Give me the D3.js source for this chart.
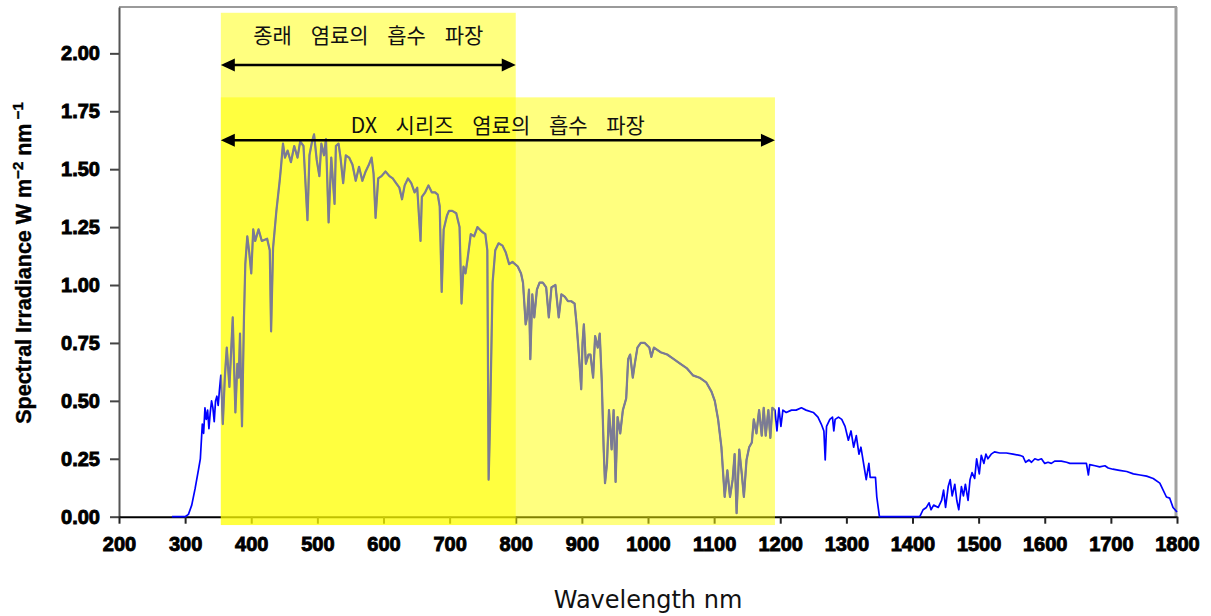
<!DOCTYPE html>
<html>
<head>
<meta charset="utf-8">
<script src="https://cdn.jsdelivr.net/npm/d3@7/dist/d3.min.js"></script>
<style>
  body { margin: 0; background: #fff; }
</style>
</head>
<body>
<script>
// spectrum
const wavelength = [
  280, 300, 305, 310, 315, 320, 323, 326, 328, 330, 332, 334, 336, 338, 340, 342, 344, 346, 348, 350, 352, 354,
  357, 360, 363, 367, 372, 376, 379, 381, 383, 386, 389, 391, 394, 397, 400, 403, 406, 411, 416, 424, 428, 430,
  433, 438, 443, 445, 448, 451, 455, 460, 465, 470, 474, 479, 485, 488, 492, 495, 499, 503, 506, 510, 513, 517,
  521, 526, 528, 532, 535, 539, 543, 548, 553, 558, 563, 568, 573, 578, 582, 585, 588, 592, 597, 603, 609, 614,
  619, 624, 628, 632, 637, 642, 647, 651, 656, 658, 663, 668, 673, 678, 682, 685, 688, 691, 696, 699, 704, 710,
  715, 718, 721, 724, 727, 732, 737, 742, 749, 754, 757, 759, 761, 765, 769, 774, 780, 785, 790, 795, 803, 808,
  811, 815, 817, 820, 822, 825, 828, 832, 836, 841, 846, 850, 854, 860, 865, 869, 874, 879, 884, 889, 892, 896,
  899, 901, 903, 906, 910, 913, 917, 920, 924, 927, 930, 933, 935, 938, 941, 945, 948, 951, 954, 958, 962, 967,
  970, 973, 977, 980, 984, 989, 995, 1002, 1005, 1009, 1019, 1029, 1039, 1049, 1059, 1068, 1078, 1088, 1096, 1101,
  1106, 1111, 1116, 1120, 1124, 1128, 1131, 1134, 1138, 1142, 1145, 1149, 1153, 1157, 1160, 1164, 1168, 1172, 1175, 1178,
  1182, 1185, 1188, 1192, 1195, 1198, 1201, 1204, 1209, 1217, 1224, 1232, 1239, 1250, 1257, 1262, 1266, 1268, 1270, 1275,
  1279, 1281, 1283, 1288, 1293, 1298, 1303, 1307, 1311, 1315, 1319, 1322, 1326, 1330, 1334, 1336, 1340, 1344, 1346, 1350,
  1411, 1416, 1421, 1425, 1428, 1432, 1439, 1444, 1447, 1450, 1454, 1457, 1460, 1464, 1467, 1470, 1474, 1477, 1480, 1484,
  1487, 1490, 1494, 1497, 1501, 1504, 1508, 1511, 1514, 1519, 1524, 1532, 1542, 1552, 1562, 1567, 1571, 1576, 1580, 1585,
  1590, 1595, 1600, 1605, 1610, 1615, 1625, 1633, 1638, 1648, 1655, 1663, 1666, 1668, 1676, 1683, 1691, 1696, 1703, 1713,
  1724, 1734, 1744, 1754, 1764, 1774, 1784, 1789, 1794, 1800
];
const irradiance = [
  0, 0, 0.01, 0.05, 0.12, 0.2, 0.25, 0.4, 0.36, 0.47, 0.42, 0.46, 0.38, 0.45, 0.5, 0.47, 0.41, 0.5, 0.52, 0.48, 0.55, 0.61,
  0.40, 0.60, 0.73, 0.56, 0.86, 0.45, 0.66, 0.60, 0.79, 0.39, 0.86, 1.09, 1.21, 1.14, 1.05, 1.24, 1.19, 1.24, 1.19, 1.20, 1.15, 0.80,
  1.16, 1.32, 1.45, 1.51, 1.61, 1.55, 1.58, 1.53, 1.60, 1.55, 1.62, 1.60, 1.28, 1.56, 1.62, 1.65, 1.54, 1.47, 1.61, 1.56, 1.63, 1.27,
  1.55, 1.35, 1.60, 1.61, 1.55, 1.44, 1.56, 1.55, 1.52, 1.45, 1.51, 1.45, 1.49, 1.52, 1.55, 1.48, 1.29, 1.46, 1.47, 1.49, 1.47, 1.46,
  1.44, 1.42, 1.37, 1.43, 1.46, 1.44, 1.40, 1.42, 1.19, 1.38, 1.40, 1.43, 1.40, 1.40, 1.39, 1.34, 0.97, 1.24, 1.30, 1.32, 1.32, 1.31,
  1.25, 0.92, 1.08, 1.05, 1.11, 1.22, 1.21, 1.25, 1.23, 1.22, 1.15, 0.16, 0.39, 1.01, 1.15, 1.18, 1.17, 1.14, 1.09, 1.10, 1.08, 1.05,
  1.01, 0.83, 0.86, 0.98, 0.68, 0.96, 0.86, 0.98, 1.01, 1.01, 0.99, 0.86, 0.99, 1.00, 0.86, 0.96, 0.95, 0.93, 0.93, 0.92, 0.83, 0.68,
  0.55, 0.75, 0.83, 0.66, 0.70, 0.70, 0.60, 0.78, 0.73, 0.79, 0.59, 0.29, 0.145, 0.23, 0.46, 0.29, 0.46, 0.15, 0.43, 0.36, 0.46, 0.51,
  0.68, 0.70, 0.60, 0.66, 0.73, 0.75, 0.75, 0.73, 0.69, 0.73, 0.71, 0.70, 0.68, 0.66, 0.64, 0.61, 0.60, 0.58, 0.54, 0.50,
  0.42, 0.30, 0.085, 0.20, 0.085, 0.16, 0.27, 0.015, 0.29, 0.18, 0.085, 0.245, 0.30, 0.32, 0.42, 0.36, 0.46, 0.35, 0.47, 0.35,
  0.46, 0.34, 0.47, 0.46, 0.37, 0.47, 0.39, 0.46, 0.45, 0.46, 0.46, 0.47, 0.46, 0.45, 0.43, 0.40, 0.37, 0.245, 0.39, 0.42,
  0.43, 0.37, 0.42, 0.43, 0.42, 0.39, 0.33, 0.37, 0.30, 0.35, 0.27, 0.30, 0.23, 0.16, 0.23, 0.17, 0.17, 0.17, 0.085, 0,
  0, 0.03, 0.04, 0.06, 0.03, 0.05, 0.04, 0.07, 0.115, 0.04, 0.13, 0.16, 0.09, 0.14, 0.07, 0.03, 0.13, 0.09, 0.14, 0.07,
  0.16, 0.19, 0.165, 0.25, 0.185, 0.265, 0.23, 0.27, 0.25, 0.27, 0.28, 0.275, 0.275, 0.27, 0.265, 0.26, 0.235, 0.245, 0.235, 0.25,
  0.245, 0.25, 0.23, 0.235, 0.23, 0.24, 0.24, 0.235, 0.23, 0.23, 0.23, 0.23, 0.18, 0.225, 0.22, 0.215, 0.22, 0.21, 0.205, 0.20,
  0.195, 0.185, 0.18, 0.175, 0.165, 0.145, 0.085, 0.08, 0.04, 0.02
];

const xTicks = [200, 300, 400, 500, 600, 700, 800, 900, 1000, 1100, 1200, 1300, 1400, 1500, 1600, 1700, 1800];
const yTicks = [0, 0.25, 0.5, 0.75, 1.0, 1.25, 1.5, 1.75, 2.0];

// absorption bands (nm)
const bandLabels = ['종래 염료의 흡수 파장', 'DX 시리즈 염료의 흡수 파장'];
const bandStart = [354, 354];
const bandEnd = [800, 1192];

const w = 1211;
const h = 616;

const x = d3.scaleLinear().domain([200, 1800]).range([119, 1177]);
const y = d3.scaleLinear().domain([0, 2.2]).range([516.7, 7]);

const svg = d3.select('body')
  .append('svg')
  .attr('width', w)
  .attr('height', h);

const data = wavelength.map((d, i) => [d, irradiance[i]]);

// frame (top + right)
svg.append('line')
  .attr('x1', x(200)).attr('x2', x(1800))
  .attr('y1', y(2.2)).attr('y2', y(2.2))
  .attr('stroke', '#9a9a9a').attr('stroke-width', 2);
svg.append('line')
  .attr('x1', x(1800) - 1).attr('x2', x(1800) - 1)
  .attr('y1', y(2.2)).attr('y2', y(0))
  .attr('stroke', '#a0a0a0').attr('stroke-width', 3);

// axes
const yAxis = d3.axisLeft(y)
  .tickValues(yTicks)
  .tickFormat(d3.format('.2f'))
  .tickSize(9)
  .tickSizeOuter(0)
  .tickPadding(10);

const xAxis = d3.axisBottom(x)
  .tickValues(xTicks)
  .tickFormat(d3.format('d'))
  .tickSize(7)
  .tickSizeOuter(0)
  .tickPadding(13);

const gy = svg.append('g')
  .attr('transform', 'translate(' + x(200) + ',0)')
  .call(yAxis);
gy.select('.domain').attr('stroke', '#555').attr('stroke-width', 2);
gy.selectAll('.tick line').attr('stroke', '#444').attr('stroke-width', 2);

const gx = svg.append('g')
  .attr('transform', 'translate(0,' + y(0) + ')')
  .call(xAxis);
gx.select('.domain').attr('stroke', '#000').attr('stroke-width', 2);
gx.selectAll('.tick line').attr('stroke', '#222').attr('stroke-width', 2);

svg.selectAll('.tick text')
  .attr('font-family', 'Liberation Sans, Arial, sans-serif')
  .attr('font-weight', 'bold')
  .attr('font-size', 20)
  .attr('fill', '#000')
  .attr('stroke', '#000')
  .attr('stroke-width', 0.9);

// spectrum
const line = d3.line()
  .x(d => x(d[0]))
  .y(d => y(d[1]));

svg.append('path')
  .datum(data)
  .attr('fill', 'none')
  .attr('stroke', '#0000ff')
  .attr('stroke-width', 1.7)
  .attr('stroke-linejoin', 'round')
  .attr('d', line);

// yellow bands
const bandTop = [2.175, 1.81];
const bandBottom = -0.036;

svg.selectAll('rect.band')
  .data(bandLabels)
  .enter()
  .append('rect')
  .attr('class', 'band')
  .attr('x', (d, i) => x(bandStart[i]))
  .attr('width', (d, i) => x(bandEnd[i]) - x(bandStart[i]))
  .attr('y', (d, i) => y(bandTop[i]))
  .attr('height', (d, i) => y(bandBottom) - y(bandTop[i]))
  .attr('fill', '#ffff00')
  .attr('fill-opacity', 0.5);

// spectrum seen through the yellow
svg.append('clipPath')
  .attr('id', 'bandclip')
  .append('rect')
  .attr('x', x(bandStart[1]))
  .attr('width', x(bandEnd[1]) - x(bandStart[1]))
  .attr('y', y(bandTop[1]))
  .attr('height', y(bandBottom) - y(bandTop[1]));

svg.append('path')
  .datum(data)
  .attr('clip-path', 'url(#bandclip)')
  .attr('fill', 'none')
  .attr('stroke', '#7b7b94')
  .attr('stroke-width', 2.2)
  .attr('stroke-linejoin', 'round')
  .attr('d', line);

// arrows + labels
const arrowLevel = [1.95, 1.625];
const labelLevel = [2.045, 1.655];

bandLabels.forEach((label, i) => {
  const x1 = x(bandStart[i]);
  const x2 = x(bandEnd[i]);
  const ay = y(arrowLevel[i]);
  svg.append('line')
    .attr('x1', x1 + 10).attr('x2', x2 - 10)
    .attr('y1', ay).attr('y2', ay)
    .attr('stroke', '#000').attr('stroke-width', 2.5);
  svg.append('path')
    .attr('d', 'M' + x1 + ',' + ay + 'L' + (x1 + 14) + ',' + (ay - 6.5) + 'L' + (x1 + 14) + ',' + (ay + 6.5) + 'Z')
    .attr('fill', '#000');
  svg.append('path')
    .attr('d', 'M' + x2 + ',' + ay + 'L' + (x2 - 14) + ',' + (ay - 6.5) + 'L' + (x2 - 14) + ',' + (ay + 6.5) + 'Z')
    .attr('fill', '#000');
  svg.append('text')
    .attr('x', (x1 + x2) / 2)
    .attr('y', y(labelLevel[i]))
    .attr('text-anchor', 'middle')
    .attr('font-family', 'Noto Sans CJK KR, sans-serif')
    .attr('font-size', 21)
    .attr('word-spacing', 14)
    .attr('fill', '#111')
    .text(label);
});

// axis titles
svg.append('text')
  .attr('x', 648)
  .attr('y', 608)
  .attr('text-anchor', 'middle')
  .attr('font-family', 'DejaVu Sans, sans-serif')
  .attr('font-size', 24)
  .attr('fill', '#111')
  .text('Wavelength nm');

const yTitle = svg.append('text')
  .attr('transform', 'translate(31,263) rotate(-90)')
  .attr('text-anchor', 'middle')
  .attr('font-family', 'Liberation Sans, Arial, sans-serif')
  .attr('font-weight', 'bold')
  .attr('font-size', 21.5)
  .attr('fill', '#000')
  .attr('stroke', '#000')
  .attr('stroke-width', 0.4);
yTitle.append('tspan').text('Spectral Irradiance W m');
yTitle.append('tspan').attr('dy', -8).attr('font-size', 15).text('−2');
yTitle.append('tspan').attr('dy', 8).text(' nm');
yTitle.append('tspan').attr('dy', -8).attr('font-size', 15).text(' −1');
</script>
</body>
</html>
